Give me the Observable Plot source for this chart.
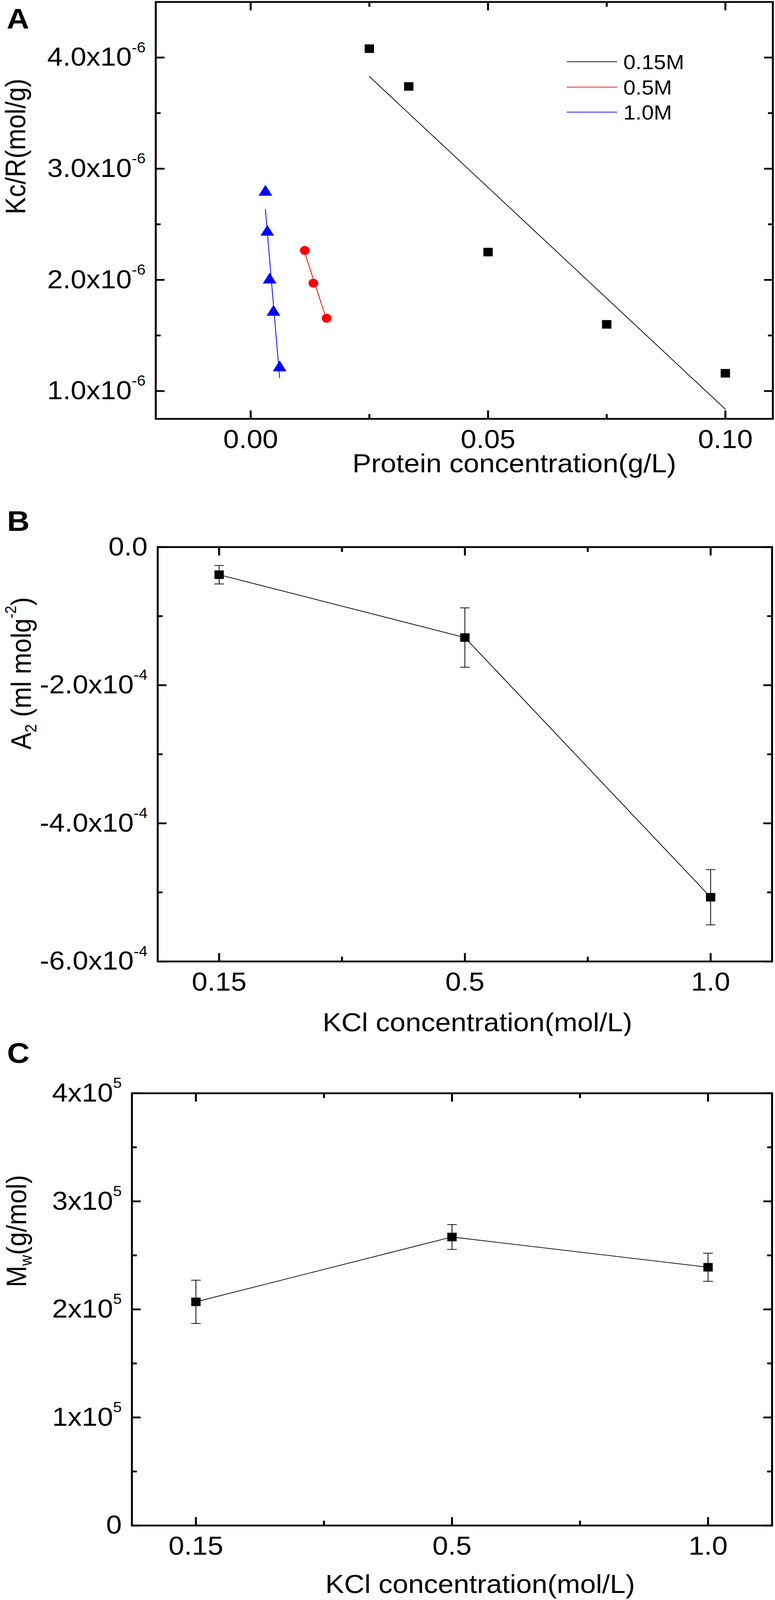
<!DOCTYPE html>
<html>
<head>
<meta charset="utf-8">
<script src="https://cdn.jsdelivr.net/npm/d3@7"></script>
<script src="https://cdn.jsdelivr.net/npm/@observablehq/plot@0.6"></script>
<style>
html, body { margin: 0; padding: 0; background: #ffffff; overflow: hidden; }
#viewport { position: relative; width: 1983px; overflow: hidden; background: #ffffff; }
#page { position: absolute; left: 0; top: 0; width: 1983px; height: 4479px; background: #ffffff; transform-origin: 0 0; }
.panel { position: absolute; left: 0; }
.panel svg { display: block; overflow: visible; max-width: none; }
</style>
</head>
<body>
<div id="viewport"><div id="page"></div></div>
<script>
// ---------------- DATA ----------------
// Panel A : Kc/R vs protein concentration for three KCl strengths
const seriesNames = ["0.15M", "0.5M", "1.0M"];
const conc015 = [0.025, 0.0333, 0.050, 0.075, 0.100];
const kcr015  = [4.08e-6, 3.74e-6, 2.25e-6, 1.60e-6, 1.16e-6];
const conc05  = [0.0114, 0.0132, 0.0160];
const kcr05   = [2.265e-6, 1.97e-6, 1.655e-6];
const conc10  = [0.0031, 0.0035, 0.0040, 0.0048, 0.0061];
const kcr10   = [2.79e-6, 2.43e-6, 2.00e-6, 1.71e-6, 1.21e-6];

const xTicksA = [0, 0.05, 0.10];
const xTickLabelsA = ["0.00", "0.05", "0.10"];
const xMinorA = [0.025, 0.075];
const yTicksA = [1e-6, 2e-6, 3e-6, 4e-6];
const yTickLabelsA = ["1.0x10^{-6}", "2.0x10^{-6}", "3.0x10^{-6}", "4.0x10^{-6}"];
const yMinorA = [1.5e-6, 2.5e-6, 3.5e-6];
const xTitleA = "Protein concentration(g/L)";
const yTitleA = "Kc/R(mol/g)";

// Panel B : second virial coefficient vs KCl concentration
const kclLabels = ["0.15", "0.5", "1.0"];
const a2Values = [-0.40e-4, -1.31e-4, -5.07e-4];
const a2Errors = [0.134e-4, 0.43e-4, 0.40e-4];
const yTicksB = [0, -2e-4, -4e-4, -6e-4];
const yTickLabelsB = ["0.0", "-2.0x10^{-4}", "-4.0x10^{-4}", "-6.0x10^{-4}"];
const yMinorB = [-1e-4, -3e-4, -5e-4];
const xTitleB = "KCl concentration(mol/L)";
const yTitleB = "A_{2} (ml molg^{-2})";

// Panel C : weight-average molecular mass vs KCl concentration
const mwValues = [2.07e5, 2.67e5, 2.39e5];
const mwErrors = [0.20e5, 0.115e5, 0.13e5];
const yTicksC = [0, 1e5, 2e5, 3e5, 4e5];
const yTickLabelsC = ["0", "1x10^{5}", "2x10^{5}", "3x10^{5}", "4x10^{5}"];
const yMinorC = [0.5e5, 1.5e5, 2.5e5, 3.5e5];
const xTitleC = "KCl concentration(mol/L)";
const yTitleC = "M_{w}(g/mol)";

const xCatTicks = [0, 1, 2];
const xCatMinor = [0.5, 1.5];

// ---------------- STYLE ----------------
const FONT = '"Liberation Sans", Arial, Helvetica, sans-serif';
const W = 1983, H = 4479;
const seriesStyle = {
  "0.15M": {color: "#000000", symbol: "square", r: 13.5},
  "0.5M":  {color: "#ff0000", symbol: "circle", r: 12.5},
  "1.0M":  {color: "#0000ff", symbol: "triangle", r: 13}
};
const capSymbol = {
  draw(ctx, size) { const w = Math.sqrt(size); ctx.moveTo(-w / 2, 0); ctx.lineTo(w / 2, 0); }
};

// ---------------- HELPERS ----------------
function richText(svg, supSize = 40, supRise = 38, subSize = 42, subDrop = 14) {
  const ns = "http://www.w3.org/2000/svg";
  svg.querySelectorAll("text").forEach(el => {
    const s = el.textContent;
    if (!/[\^_]\{/.test(s)) return;
    while (el.firstChild) el.removeChild(el.firstChild);
    const re = /([\^_])\{([^}]*)\}/g;
    let last = 0, m, offset = 0;
    const add = (txt, size, shift) => {
      if (!txt) return;
      const t = document.createElementNS(ns, "tspan");
      t.textContent = txt;
      if (size) t.setAttribute("font-size", size);
      const dy = shift - offset;
      if (dy) t.setAttribute("dy", dy);
      offset = shift;
      el.appendChild(t);
    };
    while ((m = re.exec(s))) {
      add(s.slice(last, m.index), null, 0);
      if (m[1] === "^") add(m[2], supSize, -supRise);
      else add(m[2], subSize, subDrop);
      last = re.lastIndex;
    }
    add(s.slice(last), null, 0);
  });
}

function boxAxes({xTicks, xLabels, xMinor, yTicks, yLabels, yMinor, xGap, yGap}) {
  const S = 5, MAJ = -23, MIN = -13;
  const blank = () => "";
  return [
    Plot.axisX({anchor: "bottom", ticks: xTicks, tickSize: MAJ, tickPadding: xGap - MAJ,
      tickFormat: d => xLabels[xTicks.indexOf(d)], strokeWidth: S, label: null}),
    Plot.axisX({anchor: "bottom", ticks: xMinor, tickSize: MIN, tickFormat: blank, strokeWidth: S, label: null}),
    Plot.axisX({anchor: "top", ticks: xTicks, tickSize: MAJ, tickFormat: blank, strokeWidth: S, label: null}),
    Plot.axisX({anchor: "top", ticks: xMinor, tickSize: MIN, tickFormat: blank, strokeWidth: S, label: null}),
    Plot.axisY({anchor: "left", ticks: yTicks, tickSize: MAJ, tickPadding: yGap - MAJ,
      tickFormat: d => yLabels[yTicks.indexOf(d)], strokeWidth: S, label: null}),
    Plot.axisY({anchor: "left", ticks: yMinor, tickSize: MIN, tickFormat: blank, strokeWidth: S, label: null}),
    Plot.axisY({anchor: "right", ticks: yTicks, tickSize: MAJ, tickFormat: blank, strokeWidth: S, label: null}),
    Plot.axisY({anchor: "right", ticks: yMinor, tickSize: MIN, tickFormat: blank, strokeWidth: S, label: null}),
    Plot.frame({stroke: "#000", strokeWidth: S})
  ];
}

function titles(xTitle, yTitle, xt, yt) {
  return [
    Plot.text([xTitle], {text: d => d, frameAnchor: "bottom", lineAnchor: "middle",
      dx: xt[0], dy: xt[1], fontSize: 72}),
    Plot.text([yTitle], {text: d => d, frameAnchor: "left", lineAnchor: "middle", rotate: -90,
      dx: yt[0], dy: yt[1], fontSize: 72})
  ];
}

function place(svg, top, letter, lx, ly) {
  richText(svg);
  d3.select(svg).append("text")
    .attr("x", lx).attr("y", ly)
    .attr("text-anchor", "start")
    .attr("font-family", FONT).attr("font-weight", "bold").attr("font-size", 80)
    .attr("fill", "#000").text(letter);
  const holder = document.createElement("div");
  holder.className = "panel";
  holder.style.top = top + "px";
  holder.appendChild(svg);
  document.getElementById("page").appendChild(holder);
}

const baseStyle = {background: "#ffffff", fontFamily: FONT, fontSize: "72px", color: "#000", overflow: "visible"};

// ---------------- PANEL A ----------------
const seriesA = [
  {name: seriesNames[0], xs: conc015, ys: kcr015},
  {name: seriesNames[1], xs: conc05, ys: kcr05},
  {name: seriesNames[2], xs: conc10, ys: kcr10}
];
const pointsA = seriesA.flatMap(s => s.xs.map((x, i) => ({series: s.name, x, y: s.ys[i]})));

const marksA = [];
for (const s of seriesA) {
  const st = seriesStyle[s.name];
  const pts = pointsA.filter(d => d.series === s.name);
  marksA.push(Plot.linearRegressionY(pts, {x: "x", y: "y", stroke: st.color, strokeWidth: 2, ci: 0}));
}
for (const s of seriesA) {
  const st = seriesStyle[s.name];
  const pts = pointsA.filter(d => d.series === s.name);
  marksA.push(Plot.dot(pts, {x: "x", y: "y", symbol: st.symbol, fill: st.color, stroke: "none", r: st.r}));
}

const svgA = Plot.plot({
  width: W, height: 1400,
  marginTop: 5, marginRight: 6, marginBottom: 228, marginLeft: 398,
  x: {type: "linear", domain: [-0.02, 0.11]},
  y: {type: "linear", domain: [0.75e-6, 4.5e-6]},
  style: baseStyle,
  marks: [
    ...marksA,
    ...boxAxes({xTicks: xTicksA, xLabels: xTickLabelsA, xMinor: xMinorA,
      yTicks: yTicksA, yLabels: yTickLabelsA, yMinor: yMinorA, xGap: 31, yGap: 26}),
    ...titles(xTitleA, yTitleA, [128, 127], [-357, 11])
  ]
});
// legend (line samples + names)
const legendY = [173, 244, 314];
const lg = d3.select(svgA).append("g")
  .attr("font-family", FONT).attr("font-size", 56).attr("text-anchor", "start");
seriesNames.forEach((name, i) => {
  lg.append("line").attr("x1", 1450).attr("x2", 1579).attr("y1", legendY[i]).attr("y2", legendY[i])
    .attr("stroke", seriesStyle[name].color).attr("stroke-width", 2);
  lg.append("text").attr("x", 1595).attr("y", legendY[i]).attr("dy", "0.36em")
    .attr("text-anchor", "start").attr("fill", "#000").text(name);
});
place(svgA, 0, "A", 17, 80);

// ---------------- PANELS B & C ----------------
function catPanel({values, errors, yDomain, yTicks, yLabels, yMinor, xTitle, yTitle,
                   height, margins, xt, yt, xGap}) {
  const pts = kclLabels.map((lab, i) => ({i, label: lab, y: values[i], e: errors[i]}));
  return Plot.plot({
    width: W, height,
    marginTop: margins[0], marginRight: margins[1], marginBottom: margins[2], marginLeft: margins[3],
    x: {type: "linear", domain: [-0.25, 2.25]},
    y: {type: "linear", domain: yDomain},
    style: baseStyle,
    marks: [
      Plot.line(pts, {x: "i", y: "y", stroke: "#000", strokeWidth: 2}),
      Plot.ruleX(pts, {x: "i", y1: d => d.y - d.e, y2: d => d.y + d.e, stroke: "#000", strokeWidth: 2}),
      Plot.dot(pts, {x: "i", y: d => d.y - d.e, symbol: capSymbol, r: 14, stroke: "#000", strokeWidth: 2, fill: "none"}),
      Plot.dot(pts, {x: "i", y: d => d.y + d.e, symbol: capSymbol, r: 14, stroke: "#000", strokeWidth: 2, fill: "none"}),
      Plot.dot(pts, {x: "i", y: "y", symbol: "square", r: 13.5, fill: "#000", stroke: "none"}),
      ...boxAxes({xTicks: xCatTicks, xLabels: kclLabels, xMinor: xCatMinor,
        yTicks, yLabels, yMinor, xGap, yGap: 26}),
      ...titles(xTitle, yTitle, xt, yt)
    ]
  });
}

const svgB = catPanel({
  values: a2Values, errors: a2Errors, yDomain: [-6e-4, 0],
  yTicks: yTicksB, yLabels: yTickLabelsB, yMinor: yMinorB,
  xTitle: xTitleB, yTitle: yTitleB,
  height: 1500, margins: [131, 8, 209, 403], xt: [32, 172], yt: [-348, -13], xGap: 31
});
place(svgB, 1400, "B", 18, 86);

const svgC = catPanel({
  values: mwValues, errors: mwErrors, yDomain: [0, 4e5],
  yTicks: yTicksC, yLabels: yTickLabelsC, yMinor: yMinorC,
  xTitle: xTitleC, yTitle: yTitleC,
  height: 1579, margins: [160, 8, 209, 337], xt: [72, 166], yt: [-294, -62], xGap: 31
});
place(svgC, 2900, "C", 18, 75);

// ---------------- FIT TO THE VISIBLE WINDOW ----------------
// The designed sheet is 1983x4479; if the window is shorter, compress it vertically so
// every panel (and the bottom axis texts) stays in view.
(function fit() {
  const vh = window.innerHeight || H;
  const k = Math.min(1, vh / H);
  const page = document.getElementById("page");
  const vp = document.getElementById("viewport");
  page.style.transform = k < 1 ? `scale(1, ${k})` : "none";
  vp.style.height = Math.floor(H * k) + "px";
})();
</script>
</body>
</html>
